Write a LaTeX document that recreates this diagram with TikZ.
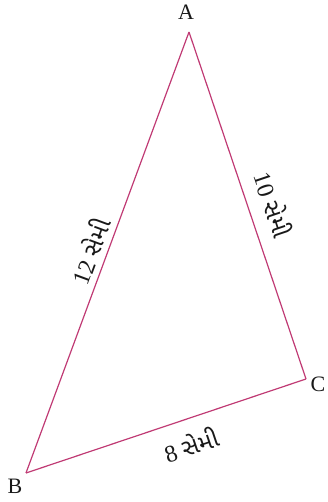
\documentclass[tikz,border=0pt]{standalone}
\usepackage{fontspec}
\setmainfont{Liberation Serif}
\newfontfamily\gujfont[Script=Gujarati]{Noto Sans Gujarati UI}
\usetikzlibrary{positioning}
\definecolor{sidepink}{RGB}{192,58,116}
\newcommand{\semitxt}{{\gujfont સેમી}}
\tikzset{
  side/.style={draw=sidepink, line width=0.6pt},
  vlbl/.style={font=\fontsize{11}{13}\selectfont, text=black!90, inner sep=0pt},
  len/.style={font=\fontsize{12}{14}\selectfont, text=black!90, sloped, inner sep=1pt}
}
\begin{document}
\begin{tikzpicture}[x=0.5pt, y=0.5pt]
\useasboundingbox (0,0) rectangle (327,502);

% --- Vertices of the triangle ---
\coordinate (A) at (189,470);
\coordinate (B) at (26,29);
\coordinate (C) at (306,123);
\node[vlbl] (lA) at (186,490) {A};
\node[vlbl] (lB) at (15,16) {B};
\node[vlbl] (lC) at (318,118) {C};

% --- Sides with their lengths ---
\draw[side] (B) -- node[len, above=2pt, pos=0.49] (lAB) {12 \semitxt} (A);
\draw[side] (A) -- node[len, above=6pt, pos=0.52] (lAC) {10 \semitxt} (C);
\draw[side] (B) -- node[len, below=6pt, pos=0.56] (lBC) {8 \semitxt} (C);

\end{tikzpicture}
\end{document}
